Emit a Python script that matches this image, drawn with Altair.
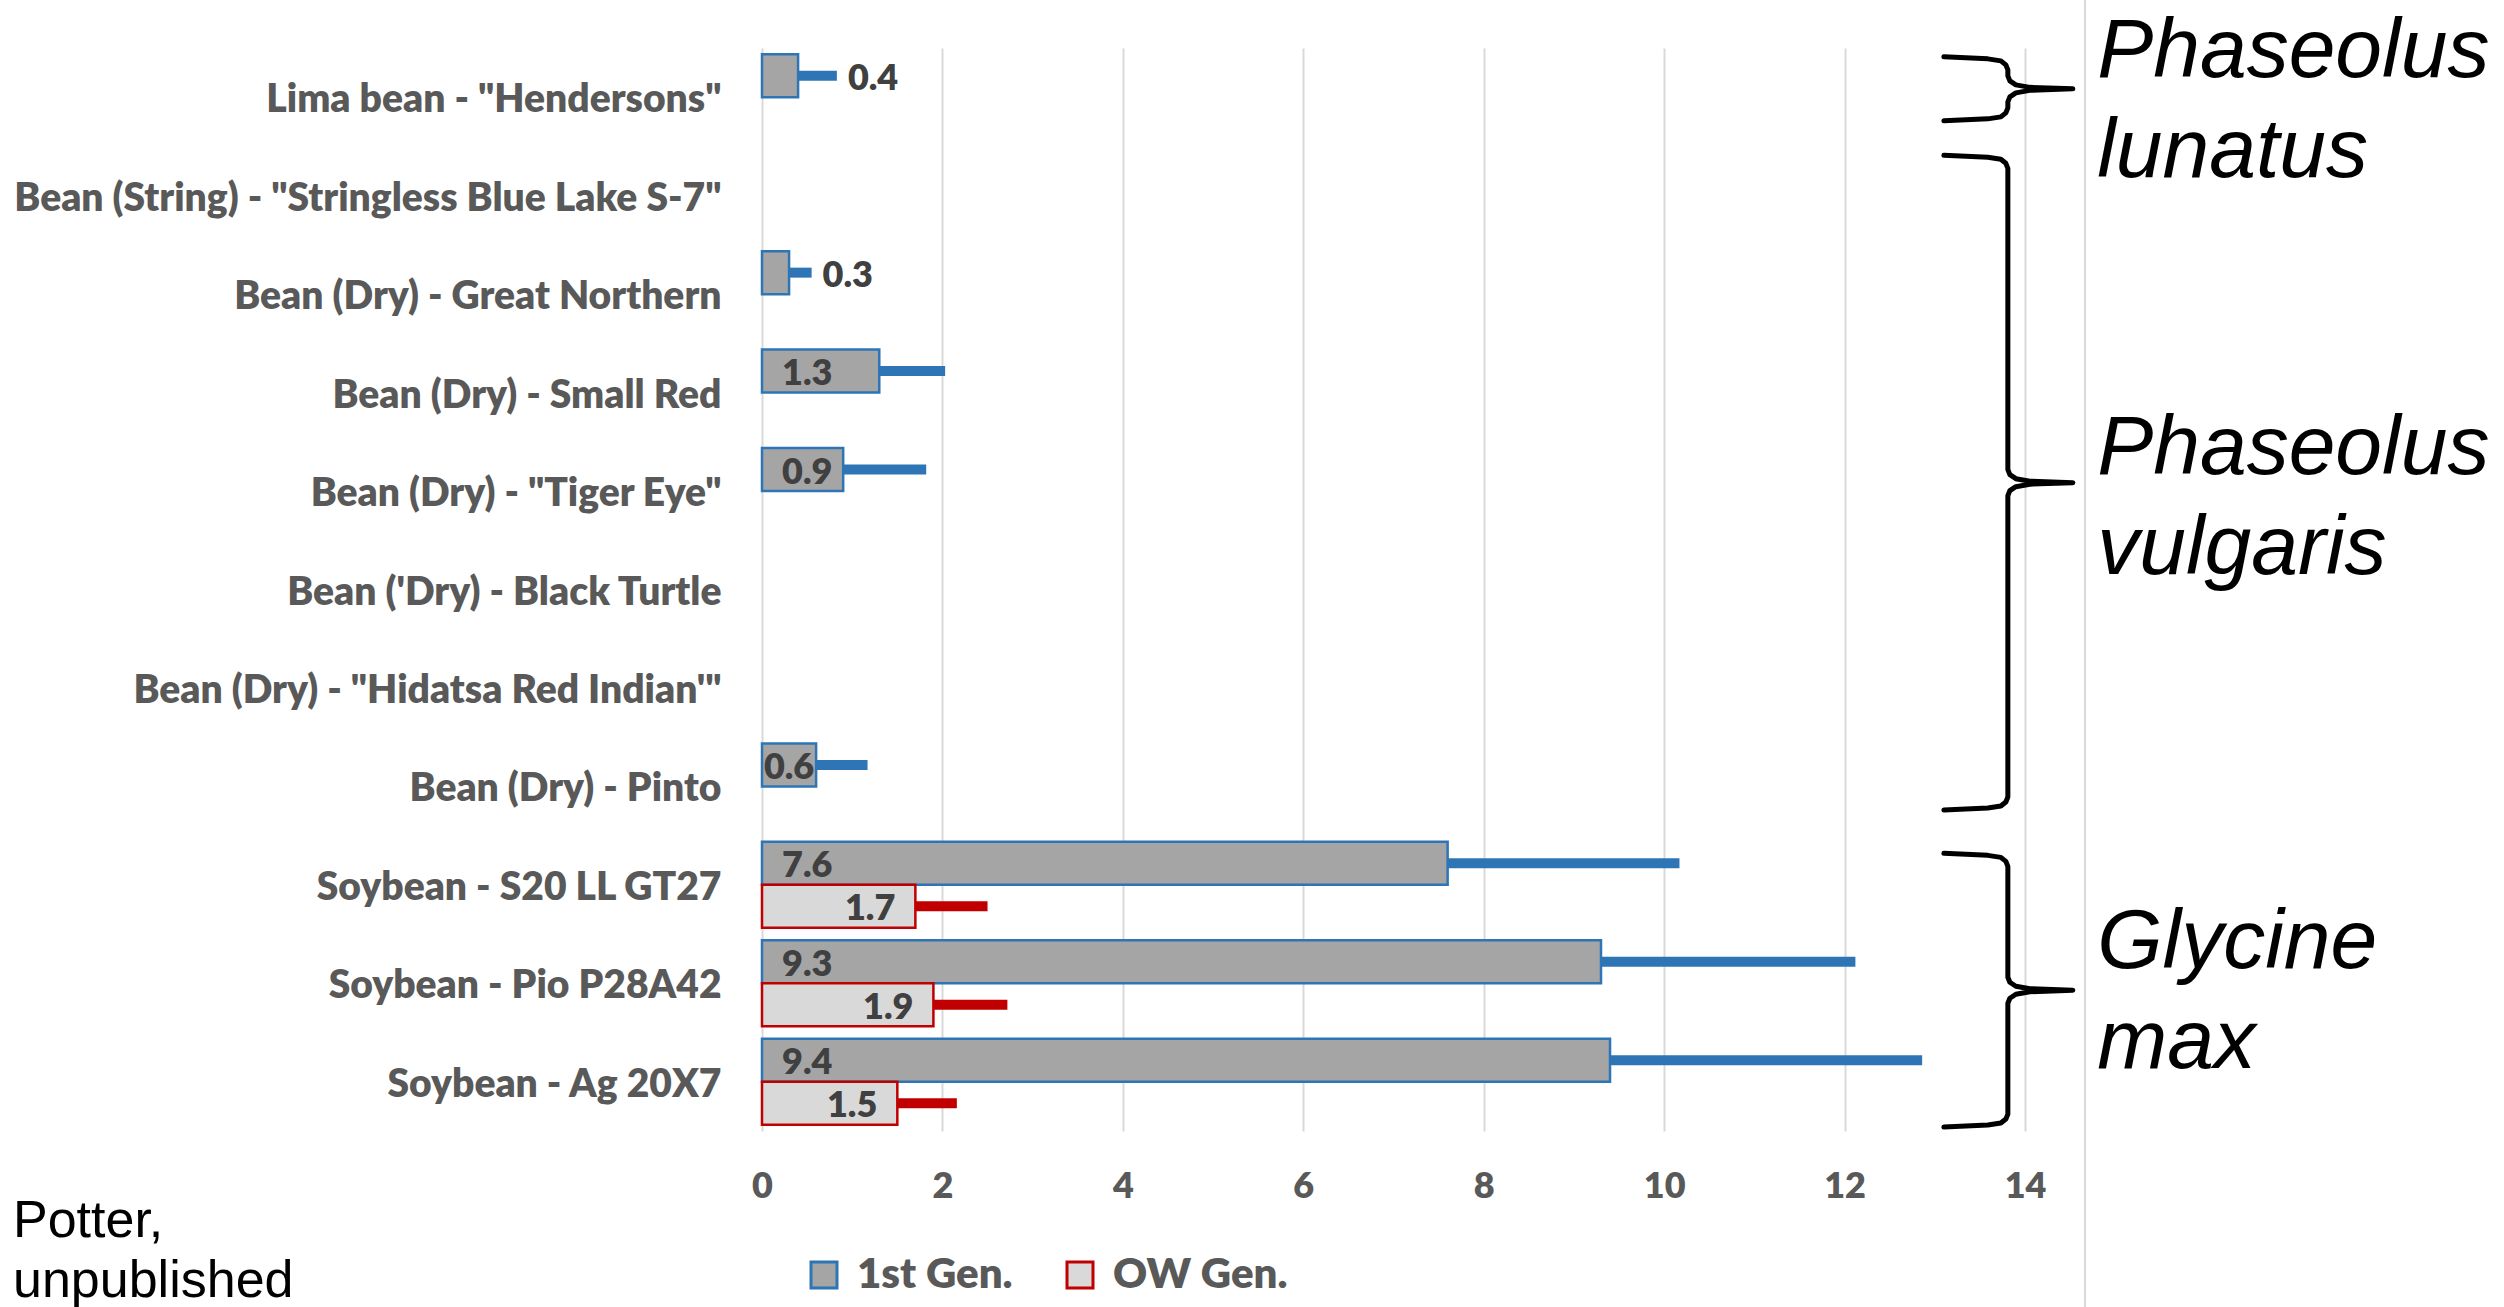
import altair as alt
import pandas as pd

# ---- data -----------------------------------------------------------------
varieties = [
    'Lima bean - "Hendersons"',
    'Bean (String) - "Stringless Blue Lake S-7"',
    'Bean (Dry) - Great Northern',
    'Bean (Dry) - Small Red',
    'Bean (Dry) - "Tiger Eye"',
    "Bean ('Dry) - Black Turtle",
    'Bean (Dry) - "Hidatsa Red Indian\'"',
    'Bean (Dry) - Pinto',
    'Soybean - S20 LL GT27',
    'Soybean - Pio P28A42',
    'Soybean - Ag 20X7',
]
series_names = ["1st Gen.", "OW Gen."]

first_gen = [0.4, None, 0.3, 1.3, 0.9, None, None, 0.6, 7.6, 9.3, 9.4]
first_gen_err = [0.43, None, 0.25, 0.73, 0.92, None, None, 0.57, 2.57, 2.82, 3.46]
ow_gen = [None, None, None, None, None, None, None, None, 1.7, 1.9, 1.5]
ow_gen_err = [None, None, None, None, None, None, None, None, 0.8, 0.82, 0.66]

# where the value label of each 1st-generation bar sits
first_gen_label = ["outside", None, "outside", "base", "base", None, None,
                   "center", "base", "base", "base"]

# species brackets: first row, last row (in row units) and first text line
species = ["Phaseolus\nlunatus", "Phaseolus\nvulgaris", "Glycine\nmax"]
brace_top = [-0.41, 0.59, 7.68]
brace_bottom = [0.24, 7.24, 10.46]
species_text_row = [-0.21, 3.83, 8.84]

# ---- styling --------------------------------------------------------------
FONT = "Lato"
WEIGHT = 800
fills = ["#A5A5A5", "#D9D9D9"]
edges = ["#2E75B6", "#C00000"]
W, H = 1263, 1083
XMAX = 14
PX_X = XMAX / W              # data units per pixel along x
PX_Y = len(varieties) / H    # rows per pixel along y

# ---- tidy table -----------------------------------------------------------
rows = []
for i, v in enumerate(varieties):
    for s, vals, errs, edge in ((series_names[0], first_gen, first_gen_err, edges[0]),
                                (series_names[1], ow_gen, ow_gen_err, edges[1])):
        if vals[i] is None:
            continue
        rows.append({
            "variety": v, "series": s, "value": vals[i], "err": errs[i],
            "upper": vals[i] + errs[i], "edge": edge,
            "place": first_gen_label[i] if s == series_names[0] else "end",
        })
df = pd.DataFrame(rows)
df["base"] = 0.0
df["mid"] = df["value"] / 2

x_scale = alt.Scale(domain=[0, XMAX], nice=False, zero=True)
x_axis = alt.Axis(title=None, values=list(range(0, XMAX + 1, 2)), grid=True,
                  gridColor="#D9D9D9", gridWidth=2, domain=False, ticks=False,
                  labelFont=FONT, labelFontSize=36, labelFontWeight=WEIGHT,
                  labelColor="#595959", labelPadding=38, labelFlush=False)
y_enc = alt.Y("variety:N",
              scale=alt.Scale(domain=varieties, paddingInner=0, paddingOuter=0),
              axis=alt.Axis(title=None, labelFont=FONT, labelFontSize=39,
                            labelFontWeight=WEIGHT, labelColor="#595959",
                            labelPadding=41, labelLimit=1200, labelOffset=3,
                            ticks=False, domain=False, grid=False))
off_enc = alt.YOffset("series:N",
                      scale=alt.Scale(domain=series_names, paddingInner=0,
                                      paddingOuter=0.145))

legend = alt.Legend(title=None, orient="none", legendX=41, legendY=1206,
                    direction="horizontal", symbolType="square", symbolSize=676,
                    symbolStrokeWidth=3, labelFont=FONT, labelFontSize=42,
                    labelFontWeight=WEIGHT, labelColor="#595959", labelOffset=12,
                    labelLimit=600, columnPadding=46, padding=0)

base = alt.Chart(df)

bars = base.mark_bar(strokeWidth=2.5).encode(
    x=alt.X("value:Q", scale=x_scale, axis=x_axis),
    y=y_enc,
    yOffset=off_enc,
    fill=alt.Fill("series:N", scale=alt.Scale(domain=series_names, range=fills),
                  legend=legend),
    stroke=alt.Stroke("series:N", scale=alt.Scale(domain=series_names, range=edges),
                      legend=legend),
)

# plus-only error bars
errbars = base.mark_rule(strokeWidth=10, strokeCap="butt").encode(
    x=alt.X("value:Q", scale=x_scale, axis=x_axis),
    x2="upper:Q",
    y=y_enc,
    yOffset=off_enc,
    color=alt.Color("edge:N", scale=None),
)

label_style = dict(font=FONT, fontSize=36, fontWeight=WEIGHT, color="#404040",
                   baseline="middle", dy=3)
txt = alt.Text("value:Q", format=".1f")

lbl_base = base.transform_filter("datum.place == 'base'").mark_text(
    align="left", dx=20, **label_style).encode(
    x=alt.X("base:Q", scale=x_scale, axis=x_axis), y=y_enc, yOffset=off_enc, text=txt)
lbl_mid = base.transform_filter("datum.place == 'center'").mark_text(
    align="center", **label_style).encode(
    x=alt.X("mid:Q", scale=x_scale, axis=x_axis), y=y_enc, yOffset=off_enc, text=txt)
lbl_out = base.transform_filter("datum.place == 'outside'").mark_text(
    align="left", dx=11, **label_style).encode(
    x=alt.X("upper:Q", scale=x_scale, axis=x_axis), y=y_enc, yOffset=off_enc, text=txt)
lbl_end = base.transform_filter("datum.place == 'end'").mark_text(
    align="right", dx=-20, **label_style).encode(
    x=alt.X("value:Q", scale=x_scale, axis=x_axis), y=y_enc, yOffset=off_enc, text=txt)

main = alt.layer(bars, errbars, lbl_base, lbl_mid, lbl_out, lbl_end)

# ---- curly brackets for the species groups --------------------------------
SPINE = 13.81          # x of the bracket's vertical stroke
ARM, TIP = 64, 65      # arm length / tip length in pixels
top_shape = [(-ARM, 0), (-20, 2), (-7, 4), (-2, 8), (0, 13)]
tip_shape = [(0, -13), (2, -8), (8, -4), (22, -1.5), (TIP, 0),
             (22, 1.5), (8, 4), (2, 8), (0, 13)]
bot_shape = [(0, -13), (-2, -8), (-7, -4), (-20, -2), (-ARM, 0)]

brace_pts = []
for g, (t, b) in enumerate(zip(brace_top, brace_bottom)):
    m = (t + b) / 2
    seq = ([(dx, t, dy) for dx, dy in top_shape]
           + [(dx, m, dy) for dx, dy in tip_shape]
           + [(dx, b, dy) for dx, dy in bot_shape])
    for k, (dx, anchor, dy) in enumerate(seq):
        brace_pts.append({"group": g, "order": k,
                          "bx": SPINE + dx * PX_X, "by": anchor + dy * PX_Y})
brace_df = pd.DataFrame(brace_pts)

row_scale = alt.Scale(domain=[-0.5, len(varieties) - 0.5], reverse=True,
                      nice=False, zero=False)

braces = alt.Chart(brace_df).mark_line(
    color="black", strokeWidth=5, strokeJoin="round", strokeCap="round",
    clip=False).encode(
    x=alt.X("bx:Q", scale=x_scale, axis=x_axis),
    y=alt.Y("by:Q", scale=row_scale, axis=None),
    detail="group:N",
    order="order:Q",
)

species_df = pd.DataFrame({"name": species, "row": species_text_row,
                           "sx": [14.8] * len(species)})
species_text = alt.Chart(species_df).mark_text(
    align="left", baseline="alphabetic", lineBreak="\n", lineHeight=100,
    font="Liberation Sans", fontStyle="italic", fontSize=84, color="black",
    clip=False).encode(
    x=alt.X("sx:Q", scale=x_scale, axis=x_axis),
    y=alt.Y("row:Q", scale=row_scale, axis=None),
    text="name:N",
)

annot = alt.layer(braces, species_text)

# ---- source note and chart-area edge --------------------------------------
note = alt.Chart(pd.DataFrame({"note": ["Potter,\nunpublished"]})).mark_text(
    align="left", baseline="alphabetic", lineBreak="\n", lineHeight=60,
    font="Liberation Sans", fontSize=52, color="black").encode(
    x=alt.value(-749), y=alt.value(1189), text="note:N")

edge_line = alt.Chart(pd.DataFrame({"k": [0]})).mark_rule(
    color="#D9D9D9", strokeWidth=2).encode(
    x=alt.value(1323), y=alt.value(-48), y2=alt.value(1259))

chart = alt.layer(main, annot, note, edge_line).resolve_scale(
    y="independent"
).properties(
    width=W, height=H,
    padding={"left": 762, "top": 48, "right": 2504 - 762 - W,
             "bottom": 1307 - 48 - H},
    autosize=alt.AutoSizeParams(type="none"),
    background="white",
).configure_view(stroke=None)

chart.save("out.html", embed_options={"renderer": "svg", "actions": False})
